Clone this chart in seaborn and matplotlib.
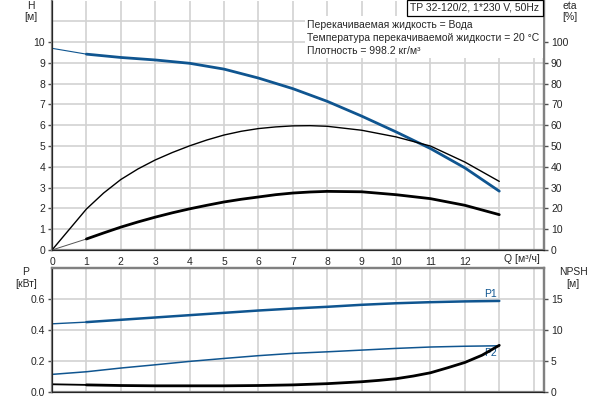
import matplotlib
matplotlib.use("Agg")
import matplotlib.pyplot as plt
from matplotlib.patches import Rectangle
import pandas as pd
import seaborn as sns

# расход, м³/ч
q = [0, 1, 2, 3, 4, 5, 6, 7, 8, 9, 10, 11, 12, 13]
# напор H, м
h = [9.70, 9.42, 9.26, 9.14, 8.98, 8.70, 8.27, 7.76, 7.15, 6.44, 5.68, 4.88, 3.95, 2.83]
# мощность P1 / P2, кВт
p1 = [0.439, 0.450, 0.465, 0.480, 0.495, 0.510, 0.525, 0.538, 0.549, 0.562, 0.572, 0.579, 0.584, 0.587]
p2 = [0.112, 0.129, 0.153, 0.174, 0.196, 0.215, 0.233, 0.248, 0.258, 0.269, 0.280, 0.289, 0.294, 0.297]

# КПД насоса и общий КПД, %
q_eta = [0, 1, 1.5, 2, 2.5, 3, 3.5, 4, 4.5, 5, 5.5, 6, 6.5, 7, 7.5, 8, 9, 10, 11, 12, 13]
eta = [0, 19.7, 27.4, 33.9, 39.0, 43.3, 46.9, 50.1, 52.9, 55.3, 57.1, 58.4, 59.2, 59.7, 59.8,
       59.5, 57.6, 54.4, 50.0, 42.3, 33.0]
eta_tot = [0, 5.3, 8.2, 11.0, 13.5, 15.8, 17.9, 19.8, 21.5, 23.1, 24.4, 25.5, 26.6, 27.4, 27.9,
           28.2, 28.0, 26.6, 24.7, 21.5, 17.0]

# NPSH, м
q_npsh = [0, 1, 2, 3, 4, 5, 6, 7, 8, 9, 9.5, 10, 10.5, 11, 11.5, 12, 12.5, 13]
npsh = [1.2, 1.1, 1.0, 0.95, 0.95, 0.95, 1.0, 1.1, 1.3, 1.61, 1.83, 2.1, 2.53, 3.06, 3.87, 4.73,
        5.9, 7.5]

x_labels = [str(i) for i in range(13)] + ["", ""]

df = pd.DataFrame({"Q": q, "H": h, "P1": p1, "P2": p2})
df_eta = pd.DataFrame({"Q": q_eta, "eta": eta, "eta_tot": eta_tot})
df_npsh = pd.DataFrame({"Q": q_npsh, "NPSH": npsh})

sns.set_style("white")
plt.rcParams['font.family'] = ['Liberation Sans', 'DejaVu Sans']
plt.rcParams['font.size'] = 7.5
plt.rcParams['lines.solid_joinstyle'] = 'round'

BLUE = '#0f5590'
GRID = '#d2d2d2'
SPINE = '#808080'


def fx(px):
    return px / 600


def fy(py):
    return 1 - py / 400


def start(d):
    return d[d["Q"] <= 1]


def duty(d):
    return d[d["Q"] >= 1]


def style_axes(ax):
    ax.set_xlim(0, 14.3)
    ax.set_xticks(range(15))
    ax.grid(True, color=GRID, lw=1.2)
    ax.set_axisbelow(True)
    for side in ['left', 'right', 'bottom', 'top']:
        ax.spines[side].set_color(SPINE)
        ax.spines[side].set_linewidth(1.6)
    ax.tick_params(axis='both', length=3, width=1, color='#505050',
                   labelsize=7.5, pad=2)


def style_twin(ax):
    ax.grid(False)
    for side in ['right', 'top']:
        ax.spines[side].set_color(SPINE)
        ax.spines[side].set_linewidth(1.6)
    ax.tick_params(axis='y', length=3, width=1, color='#505050', labelsize=7.5, pad=2)
    ax.set_xlabel("")
    ax.set_ylabel("")


fig = plt.figure(figsize=(6, 4), dpi=100)

# --- верхний график: H и КПД ---
ax_h = fig.add_axes([fx(52), fy(250), fx(492), 249.5 / 400])
style_axes(ax_h)
ax_h.spines['top'].set_visible(False)
ax_h.set_ylim(0, 12)
ax_h.set_yticks(range(11))
ax_h.axhline(11, color=GRID, lw=1.2, zorder=0)
ax_h.set_xticklabels(x_labels)

sns.lineplot(data=start(df), x="Q", y="H", ax=ax_h, color=BLUE, lw=0.8)
sns.lineplot(data=duty(df), x="Q", y="H", ax=ax_h, color=BLUE, lw=2)
ax_h.set_xlabel("")
ax_h.set_ylabel("")

ax_eta = ax_h.twinx()
ax_eta.set_ylim(0, 120)
ax_eta.set_yticks(range(0, 101, 10))
sns.lineplot(data=df_eta, x="Q", y="eta", ax=ax_eta, color='black', lw=1.0)
sns.lineplot(data=start(df_eta), x="Q", y="eta_tot", ax=ax_eta, color='#555555', lw=0.7)
sns.lineplot(data=duty(df_eta), x="Q", y="eta_tot", ax=ax_eta, color='black', lw=2)
style_twin(ax_eta)
ax_eta.spines['top'].set_visible(False)

# --- нижний график: P и NPSH ---
ax_p = fig.add_axes([fx(52), fy(391.7), fx(492), 123.7 / 400])
style_axes(ax_p)
ax_p.set_ylim(0, 0.8)
ax_p.set_yticks([0.0, 0.2, 0.4, 0.6])
ax_p.set_yticklabels(["0.0", "0.2", "0.4", "0.6"])
ax_p.set_xticklabels([])

sns.lineplot(data=start(df), x="Q", y="P1", ax=ax_p, color=BLUE, lw=1.0)
sns.lineplot(data=duty(df), x="Q", y="P1", ax=ax_p, color=BLUE, lw=1.8)
sns.lineplot(data=df, x="Q", y="P2", ax=ax_p, color=BLUE, lw=1.1)
ax_p.set_xlabel("")
ax_p.set_ylabel("")
ax_p.text(12.75, 0.63, "P1", color=BLUE, ha='center', va='center', fontsize=7.5)
ax_p.text(12.75, 0.25, "P2", color=BLUE, ha='center', va='center', fontsize=7.5)

ax_n = ax_p.twinx()
ax_n.set_ylim(0, 20)
ax_n.set_yticks([0, 5, 10, 15])
sns.lineplot(data=start(df_npsh), x="Q", y="NPSH", ax=ax_n, color='black', lw=1.3)
sns.lineplot(data=duty(df_npsh), x="Q", y="NPSH", ax=ax_n, color='black', lw=2)
style_twin(ax_n)

# --- подписи осей ---
fig.text(fx(31), fy(6), "H", ha='center', va='center')
fig.text(fx(31), fy(17), "[м]", ha='center', va='center')
fig.text(fx(570), fy(6), "eta", ha='center', va='center')
fig.text(fx(570), fy(17), "[%]", ha='center', va='center')
fig.text(fx(26), fy(272), "P", ha='center', va='center')
fig.text(fx(26), fy(284), "[кВт]", ha='center', va='center')
fig.text(fx(573), fy(272), "NPSH", ha='center', va='center')
fig.text(fx(573), fy(284), "[м]", ha='center', va='center')
fig.text(fx(504), fy(259), "Q [м³/ч]", ha='left', va='center')

# --- заголовок и параметры жидкости ---
fig.patches.append(Rectangle((fx(305), fy(58)), fx(238), 42 / 400,
                             transform=fig.transFigure, facecolor='white',
                             edgecolor='none', zorder=2))
fig.text(fx(475), fy(8), "TP 32-120/2, 1*230 V, 50Hz", ha='center', va='center',
         zorder=3, bbox=dict(facecolor='white', edgecolor='black',
                             boxstyle='square,pad=0.3', lw=0.9))
fig.text(fx(307), fy(25), "Перекачиваемая жидкость = Вода", ha='left', va='center', zorder=3)
fig.text(fx(307), fy(38), "Температура перекачиваемой жидкости = 20 °C", ha='left', va='center', zorder=3)
fig.text(fx(307), fy(51), "Плотность = 998.2 кг/м³", ha='left', va='center', zorder=3)

fig.savefig("out.png", dpi=100)
plt.close(fig)
